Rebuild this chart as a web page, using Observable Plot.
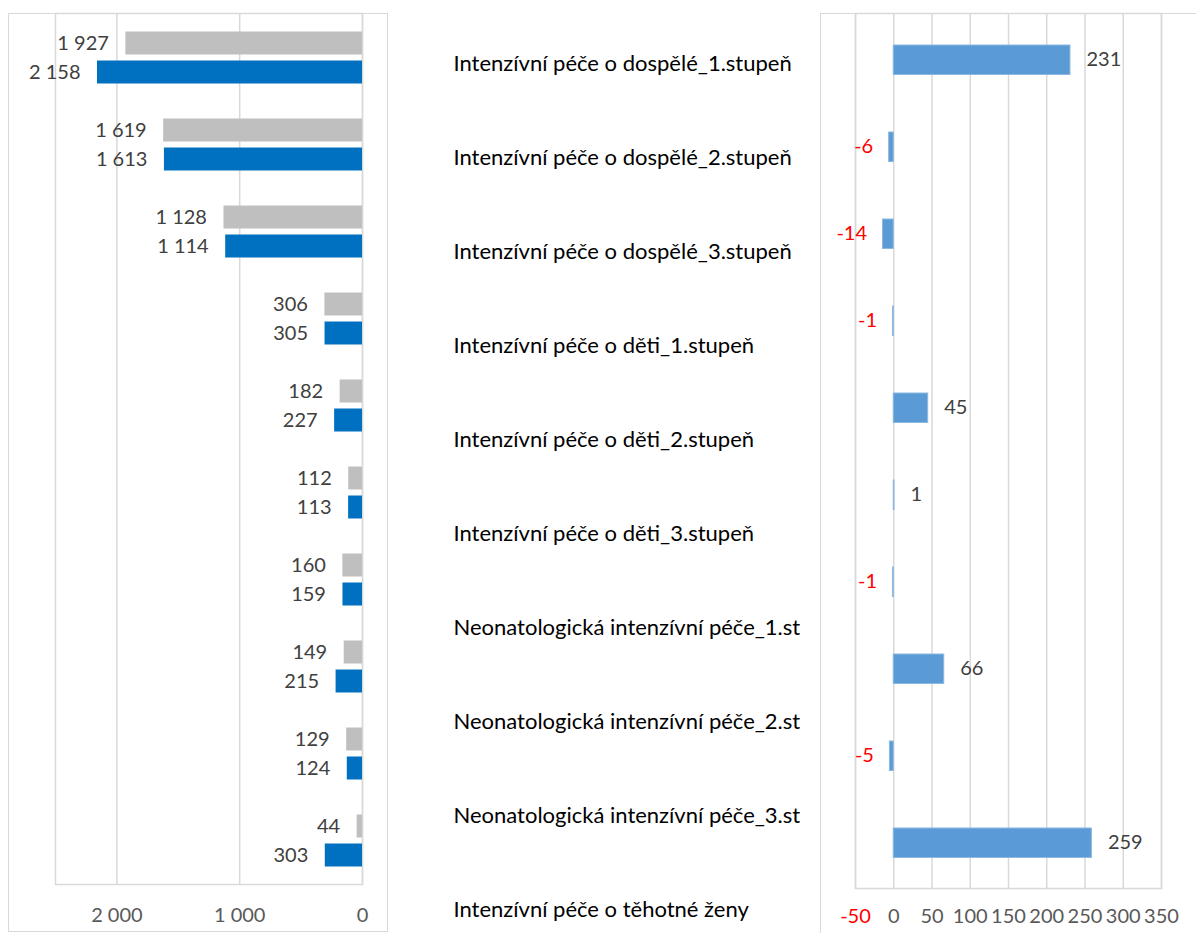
<!DOCTYPE html>
<html><head><meta charset="utf-8">
<script src="https://cdn.jsdelivr.net/npm/d3@7"></script>
<script src="https://cdn.jsdelivr.net/npm/@observablehq/plot@0.6"></script>
<style>
body{margin:0;background:#fff;}
#wrap{position:relative;width:1196px;height:933px;overflow:hidden;font-family:Lato,sans-serif;}
#wrap > div{position:absolute;}
.box{border:1.5px solid #D9D9D9;box-sizing:border-box;}
svg{overflow:visible;}
</style></head><body><div id="wrap">
<div class="box" style="left:8px;top:13px;width:380px;height:919px"></div>
<div class="box" style="left:820px;top:13px;width:420px;height:960px"></div>
<div id="left" style="left:0;top:0"></div>
<div id="mid" style="left:440px;top:0"></div>
<div id="right" style="left:800px;top:0"></div>
</div>
<script>
const categories = [
  "Intenzívní péče o dospělé_1.stupeň",
  "Intenzívní péče o dospělé_2.stupeň",
  "Intenzívní péče o dospělé_3.stupeň",
  "Intenzívní péče o děti_1.stupeň",
  "Intenzívní péče o děti_2.stupeň",
  "Intenzívní péče o děti_3.stupeň",
  "Neonatologická intenzívní péče_1.st",
  "Neonatologická intenzívní péče_2.st",
  "Neonatologická intenzívní péče_3.st",
  "Intenzívní péče o těhotné ženy"
];
const previousValues = [1927, 1619, 1128, 306, 182, 112, 160, 149, 129, 44];
const currentValues  = [2158, 1613, 1114, 305, 227, 113, 159, 215, 124, 303];
const differences    = [231, -6, -14, -1, 45, 1, -1, 66, -5, 259];
const leftTicks = [2000, 1000, 0];
const rightTicks = [-50, 0, 50, 100, 150, 200, 250, 300, 350];

const fmt = d3.formatLocale({decimal: ",", thousands: "\u00a0", grouping: [3], currency: ["", ""], minus: "-"}).format(",d");
const rowsL = categories.map((c, i) => ({c, prev: previousValues[i], cur: currentValues[i]}));
const rowsR = categories.map((c, i) => ({c, d: differences[i]}));
const grid = "#D9D9D9";
const txt = "#404040";
const style = {fontFamily: "Lato, sans-serif", fontSize: "20px", background: "transparent", overflow: "visible"};

const left = Plot.plot({
  width: 400, height: 933,
  marginLeft: 55, marginRight: 38, marginTop: 13, marginBottom: 49,
  style,
  x: {domain: [2500, 0], axis: null},
  y: {domain: categories, type: "band", padding: 0, axis: null},
  marks: [
    Plot.ruleX(leftTicks, {stroke: grid, strokeWidth: 1.5}),
    Plot.frame({stroke: grid, strokeWidth: 1.5}),
    Plot.barX(rowsL, {y: "c", x: "prev", fill: "#BFBFBF", insetTop: 17.5, insetBottom: 46.5}),
    Plot.barX(rowsL, {y: "c", x: "cur", fill: "#0070C0", insetTop: 46.5, insetBottom: 17.5}),
    Plot.text(rowsL, {y: "c", x: "prev", text: d => fmt(d.prev), textAnchor: "end", dx: -17, dy: -14.5, fill: txt, fontSize: 20}),
    Plot.text(rowsL, {y: "c", x: "cur", text: d => fmt(d.cur), textAnchor: "end", dx: -17, dy: 14.5, fill: txt, fontSize: 20}),
    Plot.text(leftTicks, {x: d => d, text: d => fmt(d), frameAnchor: "bottom", dy: 37, fill: "#595959", fontSize: 20})
  ]
});
document.getElementById("left").appendChild(left);

const mid = Plot.plot({
  width: 380, height: 933,
  marginLeft: 13, marginRight: 0, marginTop: 62, marginBottom: 23,
  style,
  y: {type: "point", domain: categories, padding: 0, axis: null},
  marks: [
    Plot.text(categories, {y: d => d, text: d => d, frameAnchor: "left", textAnchor: "start", fill: "#000", fontSize: 22})
  ]
});
document.getElementById("mid").appendChild(mid);

const right = Plot.plot({
  width: 396, height: 933,
  marginLeft: 55, marginRight: 35, marginTop: 13, marginBottom: 45,
  style,
  x: {domain: [-50, 350], axis: null},
  y: {domain: categories, type: "band", padding: 0, axis: null},
  marks: [
    Plot.ruleX(rightTicks, {stroke: grid, strokeWidth: 1.5}),
    Plot.frame({stroke: grid, strokeWidth: 1.5}),
    Plot.barX(rowsR, {y: "c", x: "d", fill: "#5B9BD5", stroke: "#8CB8E2", strokeWidth: 1, insetTop: 29, insetBottom: 28.5}),
    Plot.text(rowsR.filter(d => d.d >= 0), {y: "c", x: "d", text: d => fmt(d.d), textAnchor: "start", dx: 16, fill: txt, fontSize: 20}),
    Plot.text(rowsR.filter(d => d.d < 0), {y: "c", x: "d", text: d => fmt(d.d), textAnchor: "end", dx: -16, fill: "#FF0000", fontSize: 20}),
    Plot.text(rightTicks, {x: d => d, text: d => fmt(d), frameAnchor: "bottom", dy: 34, fill: d => d < 0 ? "#FF0000" : "#595959", fontSize: 20})
  ]
});
document.getElementById("right").appendChild(right);
</script>
</body></html>
